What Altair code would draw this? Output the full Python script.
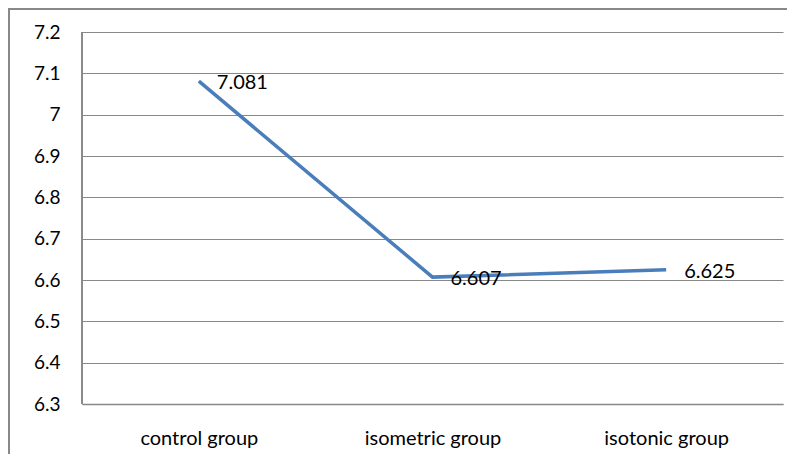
import altair as alt
import pandas as pd

groups = ["control group", "isometric group", "isotonic group"]
values = [7.081, 6.607, 6.625]
labels = ["7.081", "6.607", "6.625"]
y_ticks = [6.3, 6.4, 6.5, 6.6, 6.7, 6.8, 6.9, 7.0, 7.1, 7.2]

df = pd.DataFrame({"group": groups, "value": values, "label": labels})

FONT = "Lato"

x_enc = alt.X("group:N", sort=groups, title=None,
              scale=alt.Scale(padding=0.5),
              axis=alt.Axis(orient="bottom", labelAngle=0, labelFontSize=20, labelFont=FONT,
                            labelColor="#000000", ticks=False, domainColor="#888888",
                            domainWidth=1.5, labelPadding=24, grid=False))
y_enc = alt.Y("value:Q", title=None,
              scale=alt.Scale(domain=[6.3, 7.2], nice=False, zero=False),
              axis=alt.Axis(orient="left", values=y_ticks, format=".1~f", labelFontSize=19,
                            labelFont=FONT, labelColor="#000000", ticks=False,
                            domain=False, labelPadding=22,
                            gridColor="#888888", gridWidth=1.2, gridOpacity=1))

line = alt.Chart(df).mark_line(color="#4A7EBB", strokeWidth=3.5).encode(x=x_enc, y=y_enc)

text = alt.Chart(df).mark_text(align="left", baseline="middle", dx=18, dy=2,
                               fontSize=20, font=FONT, color="#000000").encode(
    x=x_enc, y=y_enc, text="label:N")

# decorative frame: outer chart border (left, top) and plot-area left edge
frame_left = alt.Chart(df).mark_rule(stroke="#888888", strokeWidth=2).encode(
    x=alt.value(-73), y=alt.value(-24), y2=alt.value(500))
frame_top = alt.Chart(df).mark_rule(stroke="#888888", strokeWidth=2).encode(
    x=alt.value(-74), x2=alt.value(780), y=alt.value(-23))
plot_left = alt.Chart(df).mark_rule(stroke="#888888", strokeWidth=1.5).encode(
    x=alt.value(0), y=alt.value(0), y2=alt.value(372))

chart = alt.layer(line, text, frame_left, frame_top, plot_left).properties(
    width=701, height=372,
    background="#ffffff",
    padding={"left": 74, "top": 24, "right": 4, "bottom": 50},
    autosize=alt.AutoSizeParams(type="none"),
).configure_view(strokeWidth=0, strokeOpacity=0)

chart.save("out.html", embed_options={"renderer": "svg", "actions": False})
